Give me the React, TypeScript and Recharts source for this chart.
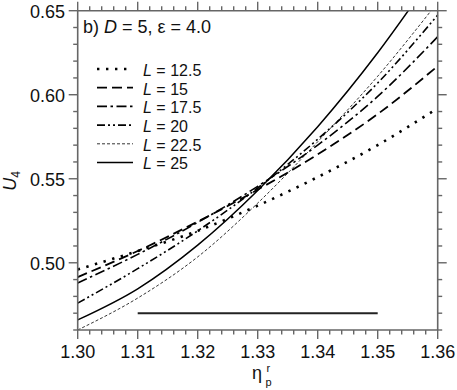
import { LineChart, Line, XAxis, YAxis, Legend } from "recharts";

// reduced packing fraction eta_p^r on the x axis
const ETA = [1.3, 1.31, 1.32, 1.33, 1.34, 1.35, 1.36];

// Binder cumulant U4 for each system size L
const U_L125 = [0.496, 0.507, 0.519, 0.534, 0.551, 0.57, 0.592];
const U_L15 = [0.4915, 0.507, 0.5245, 0.5435, 0.5645, 0.5885, 0.617];
const U_L175 = [0.488, 0.505, 0.524, 0.5455, 0.57, 0.599, 0.6345];
const U_L20 = [0.476, 0.4965, 0.519, 0.5445, 0.5735, 0.607, 0.6474];
const U_L225 = [0.46, 0.479, 0.5035, 0.5355, 0.572, 0.611, 0.655];
const U_L25 = [0.466, 0.4845, 0.5105, 0.543, 0.581, 0.625, 0.675];

const SIZES = ["12.5", "15", "17.5", "20", "22.5", "25"];
const KEYS = ["l125", "l15", "l175", "l20", "l225", "l25"];

// horizontal bar
const BAR_ETA = [1.31, 1.35];
const BAR_U = 0.47;

const X_TICKS = [
  1.3, 1.302, 1.304, 1.306, 1.308, 1.31, 1.312, 1.314, 1.316, 1.318, 1.32,
  1.322, 1.324, 1.326, 1.328, 1.33, 1.332, 1.334, 1.336, 1.338, 1.34, 1.342,
  1.344, 1.346, 1.348, 1.35, 1.352, 1.354, 1.356, 1.358, 1.36,
];
const Y_TICKS = [
  0.46, 0.47, 0.48, 0.49, 0.5, 0.51, 0.52, 0.53, 0.54, 0.55, 0.56, 0.57, 0.58,
  0.59, 0.6, 0.61, 0.62, 0.63, 0.64, 0.65,
];

const DASH = ["2.4 6.6", "10 5", "10 3.5 2.5 3.5", "8 3 2 3 2 3", "3 2", undefined];
const WIDTH = [2.6, 1.8, 1.6, 1.6, 0.8, 1.5];

const FONT = "'Liberation Sans', Arial, Helvetica, sans-serif";
const AXIS = "#666666";

const VALUES = [U_L125, U_L15, U_L175, U_L20, U_L225, U_L25];
const data = ETA.map((eta, i) => {
  const row: Record<string, number> = { eta };
  KEYS.forEach((k, j) => (row[k] = VALUES[j][i]));
  return row;
});
const barData = BAR_ETA.map((eta) => ({ eta, u: BAR_U }));

const isMajorX = (v: number) => Math.abs(v * 100 - Math.round(v * 100)) < 1e-6;
const isMajorY = (v: number) => Math.abs(v * 20 - Math.round(v * 20)) < 1e-6;

function Tick(props: any) {
  const { x, y, payload, side } = props;
  const v = payload.value as number;
  const vertical = side === "left" || side === "right";
  const major = vertical ? isMajorY(v) : isMajorX(v);
  const len = major ? 9 : 4.5;
  if (side === "bottom") {
    return (
      <g>
        <line x1={x} y1={y} x2={x} y2={y + len} stroke={AXIS} strokeWidth={1.4} />
        {major && (
          <text x={x} y={y + 28} textAnchor="middle" fontSize={18} fontFamily={FONT} fill="#111">
            {v.toFixed(2)}
          </text>
        )}
      </g>
    );
  }
  if (side === "top") {
    return <line x1={x} y1={y} x2={x} y2={y - len} stroke={AXIS} strokeWidth={1.4} />;
  }
  if (side === "right") {
    return <line x1={x} y1={y} x2={x + len} y2={y} stroke={AXIS} strokeWidth={1.4} />;
  }
  return (
    <g>
      <line x1={x - len} y1={y} x2={x} y2={y} stroke={AXIS} strokeWidth={1.4} />
      {major && (
        <text x={x - 12.7} y={y + 6.8} textAnchor="end" fontSize={18} fontFamily={FONT} fill="#111">
          {v.toFixed(2)}
        </text>
      )}
    </g>
  );
}

function XLabel() {
  return (
    <g fontFamily={FONT} fill="#111">
      <text x={252} y={379} fontSize={18}>η</text>
      <text x={266.5} y={371.5} fontSize={11}>r</text>
      <text x={265.5} y={386} fontSize={11}>p</text>
    </g>
  );
}

function YLabel() {
  return (
    <text
      x={16}
      y={181}
      transform="rotate(-90, 16, 181)"
      textAnchor="middle"
      fontSize={18}
      fontFamily={FONT}
      fill="#111"
    >
      <tspan fontStyle="italic">U</tspan>
      <tspan fontSize={12} dy={4}>4</tspan>
    </text>
  );
}

function LegendBox() {
  return (
    <svg width={260} height={180} style={{ display: "block" }}>
      <text x={83} y={32.5} fontSize={18} fontFamily={FONT} fill="#111">
        b) <tspan fontStyle="italic">D</tspan> = 5, ε = 4.0
      </text>
      {SIZES.map((s, i) => {
        const cy = 70 + i * 18.7;
        return (
          <g key={s}>
            <line
              x1={97}
              x2={133}
              y1={cy - 1}
              y2={cy - 1}
              stroke="#000"
              strokeWidth={WIDTH[i]}
              strokeDasharray={DASH[i]}
            />
            <text x={143} y={cy + 5.8} fontSize={16} fontFamily={FONT} fill="#111">
              <tspan fontStyle="italic">L</tspan> = {s}
            </text>
          </g>
        );
      })}
    </svg>
  );
}

export default function App() {
  return (
    <div style={{ position: "absolute", left: 0, top: 0, background: "#fff" }}>
      <LineChart
        width={457}
        height={390}
        data={data}
        margin={{ top: 9.7, right: 18.3, bottom: 30, left: 17.7 }}
      >
        <XAxis
          xAxisId="b"
          dataKey="eta"
          type="number"
          domain={[1.3, 1.36]}
          ticks={X_TICKS}
          interval={0}
          height={30}
          tickSize={0}
          tickMargin={0}
          axisLine={{ stroke: AXIS, strokeWidth: 1.6 }}
          tickLine={false}
          tick={(p: any) => <Tick {...p} side="bottom" />}
          label={<XLabel />}
        />
        <XAxis
          xAxisId="t"
          orientation="top"
          dataKey="eta"
          type="number"
          domain={[1.3, 1.36]}
          ticks={X_TICKS}
          interval={0}
          height={1}
          tickSize={0}
          tickMargin={0}
          axisLine={{ stroke: AXIS, strokeWidth: 1.6 }}
          tickLine={false}
          tick={(p: any) => <Tick {...p} side="top" />}
        />
        <YAxis
          yAxisId="l"
          type="number"
          domain={[0.46, 0.65]}
          allowDataOverflow
          ticks={Y_TICKS}
          interval={0}
          width={60}
          tickSize={0}
          tickMargin={0}
          axisLine={{ stroke: AXIS, strokeWidth: 1.6 }}
          tickLine={false}
          tick={(p: any) => <Tick {...p} side="left" />}
          label={<YLabel />}
        />
        <YAxis
          yAxisId="r"
          orientation="right"
          type="number"
          domain={[0.46, 0.65]}
          allowDataOverflow
          ticks={Y_TICKS}
          interval={0}
          width={1}
          tickSize={0}
          tickMargin={0}
          axisLine={{ stroke: AXIS, strokeWidth: 1.6 }}
          tickLine={false}
          tick={(p: any) => <Tick {...p} side="right" />}
        />
        {KEYS.map((k, i) => (
          <Line
            key={k}
            xAxisId="b"
            yAxisId="l"
            type="monotone"
            dataKey={k}
            name={`L = ${SIZES[i]}`}
            stroke="#000"
            strokeWidth={WIDTH[i]}
            strokeDasharray={DASH[i]}
            dot={false}
            activeDot={false}
            isAnimationActive={false}
          />
        ))}
        <Line
          xAxisId="b"
          yAxisId="l"
          data={barData}
          dataKey="u"
          type="linear"
          stroke="#222"
          strokeWidth={2}
          dot={false}
          activeDot={false}
          legendType="none"
          isAnimationActive={false}
        />
        <Legend
          layout="vertical"
          align="center"
          verticalAlign="middle"
          wrapperStyle={{ left: 0, top: 0, width: 260, height: 180 }}
          content={() => <LegendBox />}
        />
      </LineChart>
    </div>
  );
}
